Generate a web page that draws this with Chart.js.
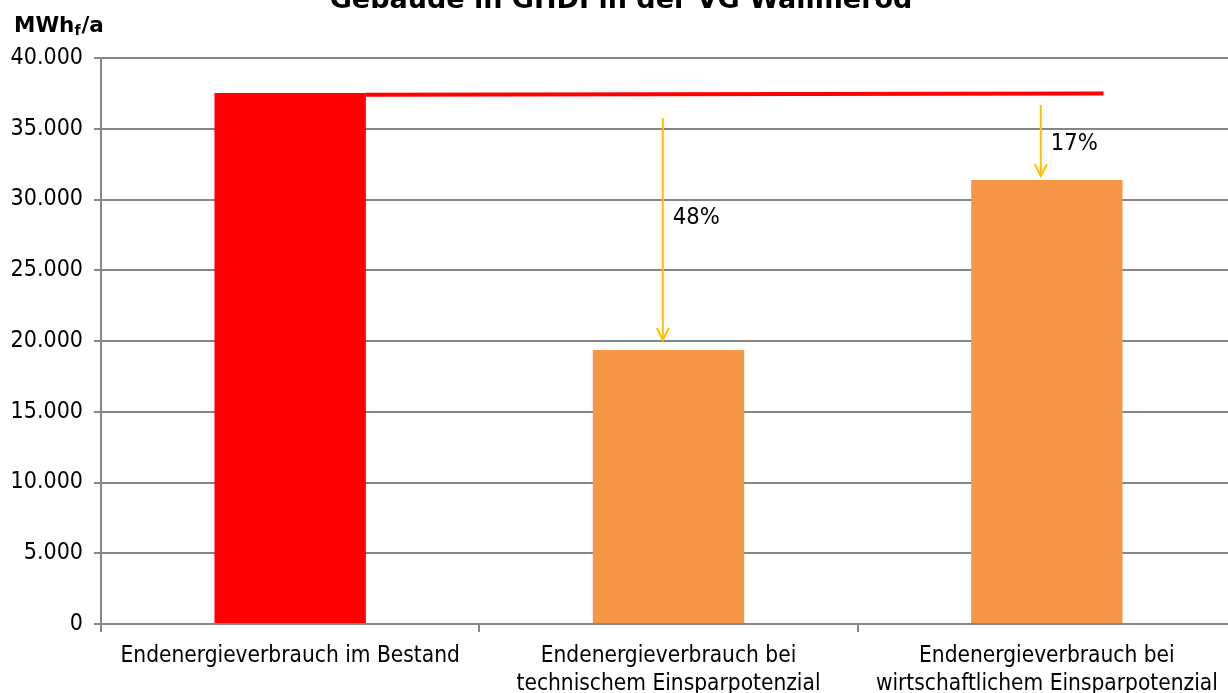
<!DOCTYPE html>
<html>
<head>
<meta charset="utf-8">
<script src="https://cdn.jsdelivr.net/npm/chart.js@4"></script>
<style>
  html, body { margin: 0; padding: 0; background: #fff; overflow: hidden; }
  #wrap { width: 1240px; height: 693px; position: relative; }
</style>
</head>
<body>
<div id="wrap"><canvas id="chart"></canvas></div>
<script>
const categories = [
  "Endenergieverbrauch im Bestand",
  ["Endenergieverbrauch bei", "technischem Einsparpotenzial"],
  ["Endenergieverbrauch bei", "wirtschaftlichem Einsparpotenzial"],
];
const verbrauch = [37530, 19360, 31380];
const barColors = ["#ff0000", "#f79646", "#f79646"];

// Linie auf Höhe des Bestands (x in Kategorie-Einheiten)
const bestandLineX = [0.2, 2.15];
const bestandLineY = [37400, 37500];

// Pfeile mit Einsparung
const arrowX = [0.985, 1.984];
const arrowFrom = [35760, 36680];
const arrowTo = [20070, 31660];
const arrowLabels = ["48%", "17%"];
const arrowLabelY = [28700, 33900];

const titleText = "Gebäude in GHDI in der VG Wallmerod";
const yTicks = [0, 5000, 10000, 15000, 20000, 25000, 30000, 35000, 40000];

const FONT = "'DejaVu Sans Condensed', 'DejaVu Sans', sans-serif";
const FONT_WIDE = "'DejaVu Sans', sans-serif";
const yellow = "#ffc000";

const extras = {
  id: "extras",
  afterDatasetsDraw(chart) {
    const ctx = chart.ctx;
    const xs = chart.scales.x;
    const ys = chart.scales.y;
    ctx.save();

    // rote Linie
    ctx.strokeStyle = "#ff0000";
    ctx.lineWidth = 4;
    ctx.beginPath();
    bestandLineX.forEach((v, i) => {
      const px = xs.getPixelForValue(v);
      const py = ys.getPixelForValue(bestandLineY[i]);
      if (i === 0) ctx.moveTo(px, py);
      else ctx.lineTo(px, py);
    });
    ctx.stroke();

    // Pfeile + Beschriftung
    arrowX.forEach((ax, i) => {
      const px = xs.getPixelForValue(ax);
      const y0 = ys.getPixelForValue(arrowFrom[i]);
      const y1 = ys.getPixelForValue(arrowTo[i]);
      ctx.strokeStyle = yellow;
      ctx.lineWidth = 2;
      ctx.beginPath();
      ctx.moveTo(px, y0);
      ctx.lineTo(px, y1);
      ctx.stroke();
      ctx.beginPath();
      ctx.moveTo(px - 6, y1 - 12);
      ctx.lineTo(px, y1);
      ctx.lineTo(px + 6, y1 - 12);
      ctx.stroke();
      ctx.fillStyle = "#000";
      ctx.font = "23.5px " + FONT;
      ctx.textBaseline = "middle";
      ctx.textAlign = "left";
      ctx.fillText(arrowLabels[i], px + 10, ys.getPixelForValue(arrowLabelY[i]));
    });
    ctx.restore();
  },
  afterDraw(chart) {
    const ctx = chart.ctx;
    ctx.save();
    ctx.fillStyle = "#000";
    ctx.textBaseline = "alphabetic";
    ctx.textAlign = "center";
    ctx.font = "bold 27px " + FONT_WIDE;
    ctx.fillText(titleText, 621, 8);

    // Einheit an der y-Achse
    ctx.textAlign = "left";
    let x = 14;
    ctx.font = "bold 21.5px " + FONT_WIDE;
    ctx.fillText("MWh", x, 32);
    x += ctx.measureText("MWh").width;
    ctx.font = "bold 14px " + FONT_WIDE;
    ctx.fillText("f", x, 35);
    x += ctx.measureText("f").width + 1;
    ctx.font = "bold 21.5px " + FONT_WIDE;
    ctx.fillText("/a", x, 32);
    ctx.restore();
  },
};

new Chart(document.getElementById("chart"), {
  type: "bar",
  data: {
    labels: categories,
    datasets: [
      {
        data: verbrauch,
        backgroundColor: barColors,
        categoryPercentage: 1,
        barPercentage: 0.4,
      },
    ],
  },
  options: {
    responsive: true,
    maintainAspectRatio: false,
    animation: false,
    layout: { padding: { top: 58, left: 0, right: 4, bottom: 0 } },
    plugins: {
      legend: { display: false },
      tooltip: { enabled: false },
    },
    scales: {
      x: {
        grid: {
          drawOnChartArea: false,
          drawTicks: true,
          tickLength: 8,
          color: "#868686",
          lineWidth: 2,
        },
        border: { color: "#868686", width: 2 },
        ticks: {
          color: "#000",
          font: { family: FONT, size: 22.5, lineHeight: 1.26 },
          padding: 10,
          maxRotation: 0,
          autoSkip: false,
        },
        afterFit(scale) {
          scale.height = 69;
        },
      },
      y: {
        min: 0,
        max: 40000,
        afterBuildTicks(scale) {
          scale.ticks = yTicks.map((v) => ({ value: v }));
        },
        grid: {
          color: "#868686",
          lineWidth: 2,
          tickLength: 7,
        },
        border: { color: "#868686", width: 2 },
        ticks: {
          color: "#000",
          font: { family: FONT, size: 23 },
          padding: 11,
          callback: (v) => v.toLocaleString("de-DE"),
        },
        afterFit(scale) {
          scale.width = 101;
        },
      },
    },
  },
  plugins: [extras],
});
</script>
</body>
</html>
